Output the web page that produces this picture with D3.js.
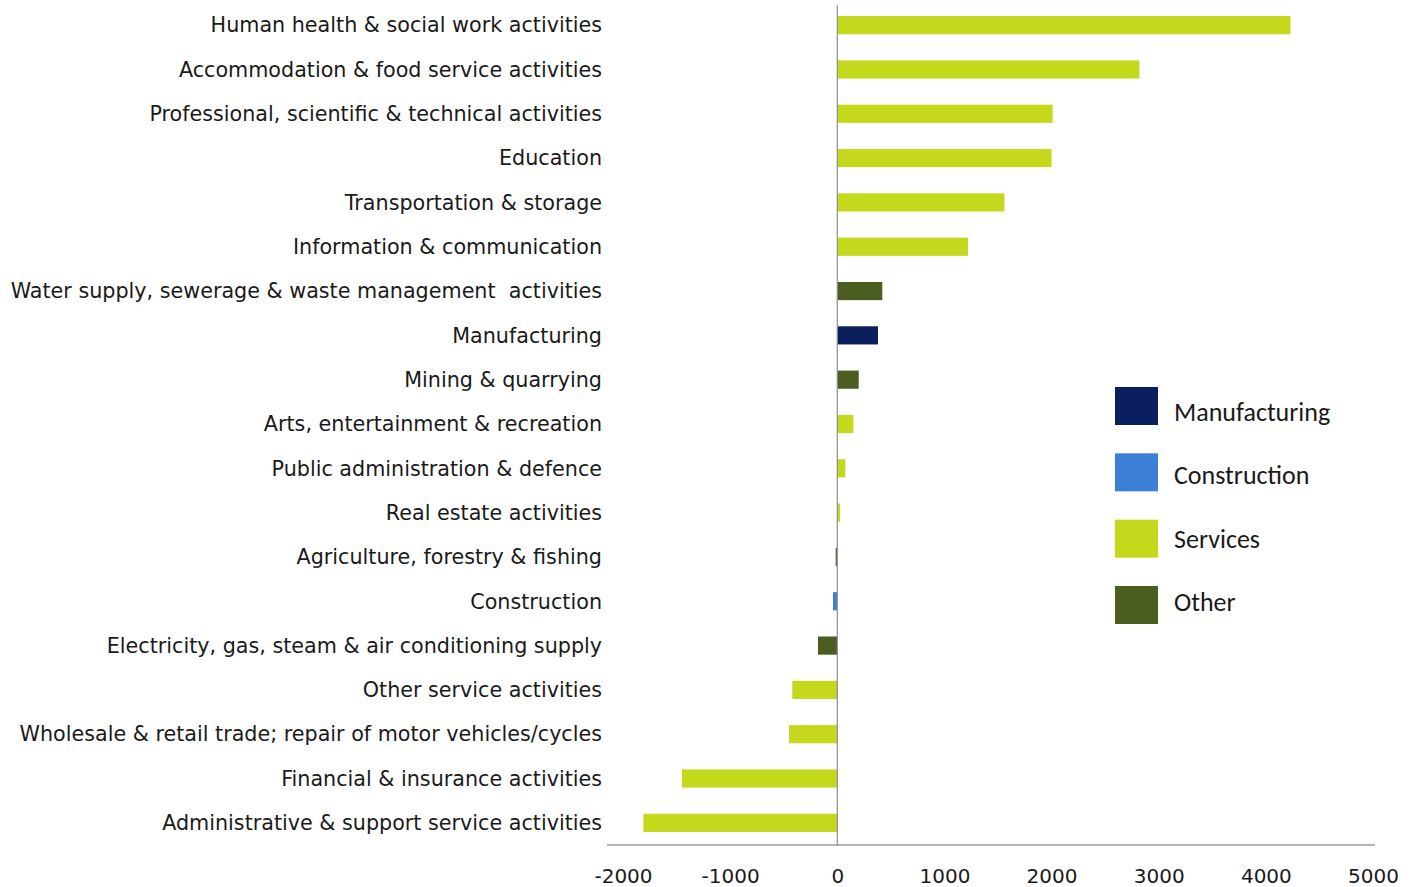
<!DOCTYPE html>
<html><head><meta charset="utf-8">
<script src="https://cdn.jsdelivr.net/npm/d3@7"></script>
<style>body{margin:0;background:#fff;}svg{display:block;}</style>
</head><body><svg id="c" width="1417" height="887"></svg>
<script>
const categories = [
  "Human health & social work activities",
  "Accommodation & food service activities",
  "Professional, scientific & technical activities",
  "Education",
  "Transportation & storage",
  "Information & communication",
  "Water supply, sewerage & waste management  activities",
  "Manufacturing",
  "Mining & quarrying",
  "Arts, entertainment & recreation",
  "Public administration & defence",
  "Real estate activities",
  "Agriculture, forestry & fishing",
  "Construction",
  "Electricity, gas, steam & air conditioning supply",
  "Other service activities",
  "Wholesale & retail trade; repair of motor vehicles/cycles",
  "Financial & insurance activities",
  "Administrative & support service activities"
];
const values = [4230, 2820, 2010, 2000, 1560, 1220, 420, 380, 200, 150, 75, 25, -15, -40, -180, -420, -450, -1450, -1810];
const groups = ["Services","Services","Services","Services","Services","Services","Other","Manufacturing","Other","Services","Services","Services","Other","Construction","Other","Services","Services","Services","Services"];
const legendNames = ["Manufacturing","Construction","Services","Other"];
const legendColors = ["#0b1f5e","#3b7fd6","#c4d81c","#4b5d1f"];
const xTicks = [-2000,-1000,0,1000,2000,3000,4000,5000];

const svg = d3.select("#c");
const color = d3.scaleOrdinal().domain(legendNames).range(legendColors);
const x = d3.scaleLinear().domain([-2000, 5000]).range([623, 1373]);
const y = d3.scaleBand().domain(categories).range([3, 845]).paddingInner(0.59).paddingOuter(0.295);
const font = "'DejaVu Sans', Verdana, sans-serif";

// bars
svg.append("g").selectAll("rect").data(values).join("rect")
  .attr("x", (d) => x(Math.min(0, d)))
  .attr("width", (d) => Math.abs(x(d) - x(0)))
  .attr("y", (d, i) => y(categories[i]))
  .attr("height", y.bandwidth())
  .attr("fill", (d, i) => color(groups[i]));

// zero line
svg.append("line").attr("x1", x(0)).attr("x2", x(0)).attr("y1", 5).attr("y2", 845)
  .attr("stroke", "#8c8c9a").attr("stroke-width", 1.2);

// x axis
const xa = svg.append("g").attr("transform", "translate(0,845)")
  .call(d3.axisBottom(x).tickValues(xTicks).tickSize(0).tickPadding(24).tickFormat((d) => String(d)));
xa.select(".domain").attr("stroke", "#6e6e6e").attr("stroke-width", 1.2).attr("d", "M607,0H1375");
xa.selectAll("text").attr("font-family", font).attr("font-size", 20).attr("fill", "#1a1a1a");

// category labels
svg.append("g").selectAll("text").data(categories).join("text")
  .attr("x", 602).attr("y", (d) => y(d) + y.bandwidth() / 2)
  .attr("dy", "0.35em").attr("text-anchor", "end")
  .style("white-space", "pre")
  .attr("font-family", font).attr("font-size", 20.7).attr("fill", "#1a1a1a")
  .text((d) => d);

// legend
const lg = svg.append("g");
const ly = d3.scalePoint().domain(legendNames).range([406, 605]);
const lt = d3.scalePoint().domain(legendNames).range([412, 602]);
lg.selectAll("rect").data(legendNames).join("rect")
  .attr("x", 1115).attr("y", (d) => ly(d) - 19).attr("width", 43).attr("height", 38)
  .attr("fill", (d) => color(d));
lg.selectAll("text").data(legendNames).join("text")
  .attr("x", 1174).attr("y", (d) => lt(d)).attr("dy", "0.35em")
  .attr("font-family", "Carlito, Calibri, 'Open Sans', sans-serif").attr("font-size", 26).attr("fill", "#1a1a1a")
  .text((d) => d);
</script></body></html>
